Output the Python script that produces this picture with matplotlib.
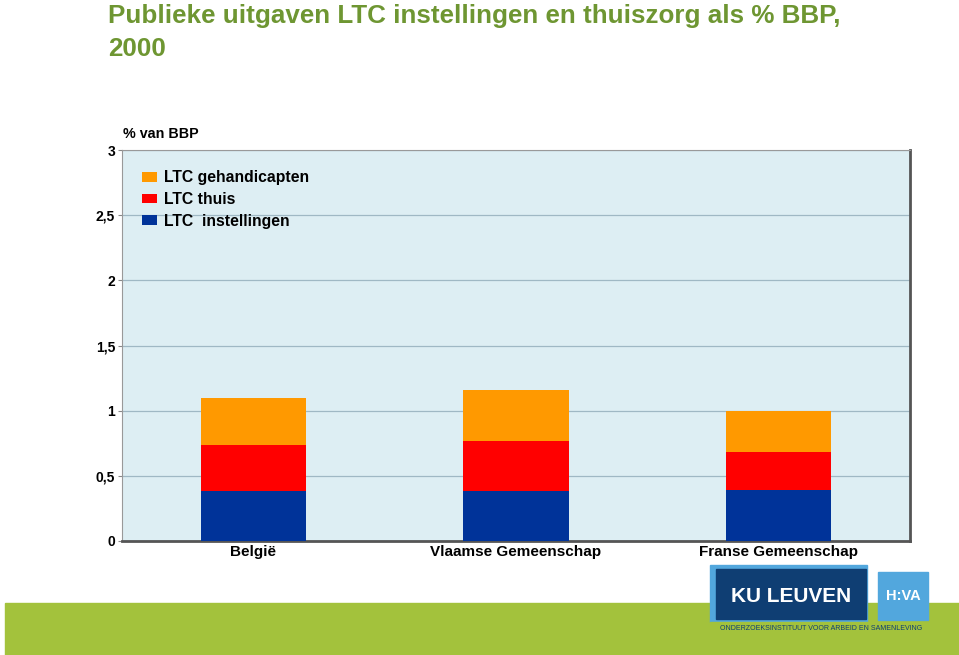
import numpy as np
import matplotlib.pyplot as plt
from matplotlib.patches import Rectangle

plt.rcParams['font.family'] = ['Liberation Sans', 'DejaVu Sans']

categories = ['België', 'Vlaamse Gemeenschap', 'Franse Gemeenschap']
instellingen = [0.38, 0.38, 0.39]
thuis = [0.36, 0.39, 0.29]
gehandicapten = [0.36, 0.39, 0.32]

series = [('LTC  instellingen', instellingen, '#003399'),
          ('LTC thuis', thuis, '#FF0000'),
          ('LTC gehandicapten', gehandicapten, '#FF9900')]

W, H = 959, 655
fig = plt.figure(figsize=(W / 100, H / 100), dpi=100)

# title
fig.text(108 / W, 1 - 32.5 / H, 'Publieke uitgaven LTC instellingen en thuiszorg als % BBP,\n2000',
         fontsize=18.7, fontweight='bold', color='#6E9632', va='center', ha='left',
         linespacing=1.45)

# plot area
ax = fig.add_axes([122 / W, 1 - 541 / H, (910 - 122) / W, (541 - 150) / H])
ax.set_facecolor('#DDEEF3')
x = np.arange(len(categories))
bottom = np.zeros(len(categories))
handles = []
for label, vals, col in series:
    b = ax.bar(x, vals, 0.4, bottom=bottom, color=col, label=label, zorder=3)
    handles.append(b)
    bottom += np.array(vals)

ax.set_xlim(-0.5, 2.5)
ax.set_ylim(0, 3)
ax.set_yticks([0, 0.5, 1, 1.5, 2, 2.5, 3])
ax.set_yticklabels(['0', '0,5', '1', '1,5', '2', '2,5', '3'], fontsize=10, fontweight='bold')
ax.yaxis.grid(True, color='#9FB8C4', linewidth=0.9, zorder=0)
ax.set_xticks(x)
ax.set_xticklabels(categories, fontsize=11, fontweight='bold')
ax.tick_params(axis='x', length=0, pad=3)
ax.tick_params(axis='y', length=3, pad=2, color='#888888')
for s in ['left', 'top']:
    ax.spines[s].set_color('#999999')
    ax.spines[s].set_linewidth(0.8)
for s in ['right', 'bottom']:
    ax.spines[s].set_color('#555555')
    ax.spines[s].set_linewidth(2)

ax.text(0.001, 1.022, '% van BBP', transform=ax.transAxes, fontsize=10.3,
        fontweight='bold', ha='left', va='bottom')

leg = ax.legend(handles[::-1], [h.get_label() for h in handles[::-1]],
                loc='upper left', bbox_to_anchor=(0.026, 0.948), frameon=False,
                prop={'size': 11.3, 'weight': 'bold'}, handlelength=0.9,
                handleheight=0.55, handletextpad=0.45, labelspacing=0.42,
                borderaxespad=0, borderpad=0)

# footer band
fig.patches.append(Rectangle((5 / W, 0), 954 / W, 52 / H, transform=fig.transFigure,
                             color='#A3C23C', zorder=0))
# logo
fig.patches.append(Rectangle((710 / W, 1 - 622 / H), 157 / W, 57 / H,
                             transform=fig.transFigure, color='#52A7DD', zorder=1))
fig.patches.append(Rectangle((716 / W, 1 - 619 / H), 150 / W, 50 / H,
                             transform=fig.transFigure, color='#0F3E73', zorder=2))
fig.patches.append(Rectangle((878 / W, 1 - 620 / H), 50 / W, 48 / H,
                             transform=fig.transFigure, color='#52A7DD', zorder=2))
fig.patches.append(Rectangle((710 / W, 1 - 637 / H), 222 / W, 15 / H,
                             transform=fig.transFigure, color='#A3C23C', zorder=2))
fig.text(791 / W, 1 - 596 / H, 'KU LEUVEN', fontsize=15, fontweight='bold',
         color='white', ha='center', va='center', zorder=3)
fig.text(903 / W, 1 - 596 / H, 'H:VA', fontsize=10.5, fontweight='bold',
         color='white', ha='center', va='center', zorder=3)
fig.text(821 / W, 1 - 629 / H, 'ONDERZOEKSINSTITUUT VOOR ARBEID EN SAMENLEVING',
         fontsize=5, color='#0F3E73', ha='center', va='center', zorder=3)

fig.savefig('out.png', dpi=100)
